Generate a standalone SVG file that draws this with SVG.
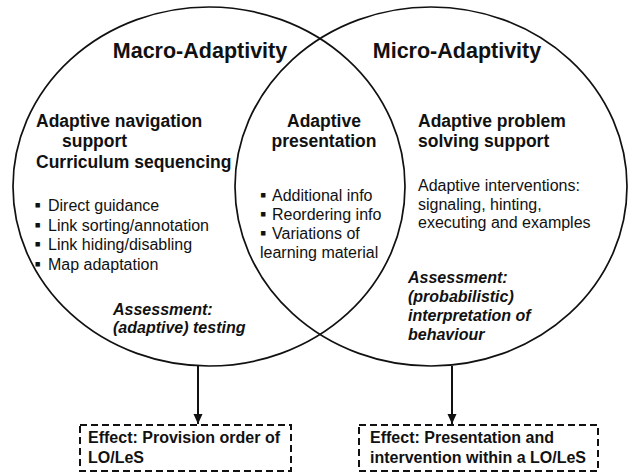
<svg xmlns="http://www.w3.org/2000/svg" width="628" height="473" viewBox="0 0 628 473">
<defs>
<style>
.c{fill:none;stroke:#111;stroke-width:1.7}
.t{font-family:"Liberation Sans",Arial,sans-serif;fill:#111}
.h{font-size:21.5px;font-weight:bold}
.b{font-size:17.5px;font-weight:bold}
.r{font-size:16px}
.bu{font-size:18px}
.a{font-size:16px;font-weight:bold;font-style:italic}
.e{font-size:16px;font-weight:bold}
.bx{fill:#fff;stroke:#111;stroke-width:2;stroke-dasharray:7 4}
.ln{stroke:#111;stroke-width:2;fill:none}
</style>
<marker id="arr" markerWidth="12" markerHeight="12" refX="10" refY="5" orient="auto" markerUnits="userSpaceOnUse">
<path d="M0,0.5 L10,5 L0,9.5 Z" fill="#111"/>
</marker>
</defs>
<rect width="628" height="473" fill="#fff"/>
<g id="macro">
<ellipse class="c" cx="209" cy="186.5" rx="196" ry="179.5"/>
<text class="t h" x="200" y="58" text-anchor="middle">Macro-Adaptivity</text>
<text class="t b" x="36" y="127">Adaptive navigation</text>
<text class="t b" x="62" y="147">support</text>
<text class="t b" x="36" y="168">Curriculum sequencing</text>
<text class="t bu" x="34.5" y="211">▪</text><text class="t r" x="48" y="211">Direct guidance</text>
<text class="t bu" x="34.5" y="230.5">▪</text><text class="t r" x="48" y="230.5">Link sorting/annotation</text>
<text class="t bu" x="34.5" y="250">▪</text><text class="t r" x="48" y="250">Link hiding/disabling</text>
<text class="t bu" x="34.5" y="269.5">▪</text><text class="t r" x="48" y="269.5">Map adaptation</text>
<text class="t a" x="113" y="315">Assessment:</text>
<text class="t a" x="113" y="333">(adaptive) testing</text>
</g>
<g id="micro">
<ellipse class="c" cx="431" cy="186.5" rx="196" ry="179.5"/>
<text class="t h" x="457" y="58" text-anchor="middle">Micro-Adaptivity</text>
<text class="t b" x="418" y="127">Adaptive problem</text>
<text class="t b" x="418" y="147">solving support</text>
<text class="t r" x="418" y="191">Adaptive interventions:</text>
<text class="t r" x="418" y="209.5">signaling, hinting,</text>
<text class="t r" x="418" y="228">executing and examples</text>
<text class="t a" x="408" y="283">Assessment:</text>
<text class="t a" x="408" y="302">(probabilistic)</text>
<text class="t a" x="408" y="321">interpretation of</text>
<text class="t a" x="408" y="340">behaviour</text>
</g>
<g id="overlap">
<text class="t b" x="324" y="127" text-anchor="middle">Adaptive</text>
<text class="t b" x="324" y="147" text-anchor="middle">presentation</text>
<text class="t bu" x="260" y="201">▪</text><text class="t r" x="272" y="201">Additional info</text>
<text class="t bu" x="260" y="220">▪</text><text class="t r" x="272" y="220">Reordering info</text>
<text class="t bu" x="260" y="239">▪</text><text class="t r" x="272" y="239">Variations of</text>
<text class="t r" x="260" y="258">learning material</text>
</g>
<g id="effect-macro">
<rect class="bx" x="80" y="425" width="211" height="46"/>
<text class="t e" x="88" y="443">Effect: Provision order of</text>
<text class="t e" x="88" y="463">LO/LeS</text>
</g>
<g id="effect-micro">
<rect class="bx" x="359" y="425" width="239" height="46"/>
<text class="t e" x="370" y="443">Effect: Presentation and</text>
<text class="t e" x="370" y="463">intervention within a LO/LeS</text>
</g>
<g id="connectors">
<line class="ln" x1="198" y1="366" x2="198" y2="424" marker-end="url(#arr)"/>
<line class="ln" x1="452" y1="366" x2="452" y2="424" marker-end="url(#arr)"/>
</g>
</svg>
